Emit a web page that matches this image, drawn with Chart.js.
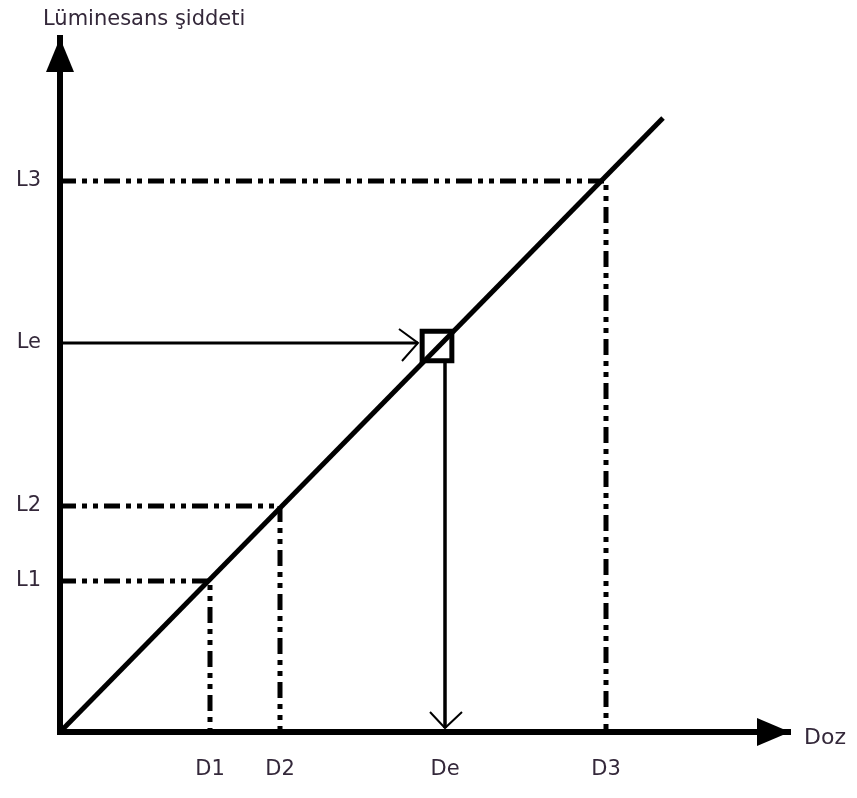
<!DOCTYPE html>
<html>
<head>
<meta charset="utf-8">
<script src="https://cdn.jsdelivr.net/npm/chart.js@4.4.1/dist/chart.umd.min.js"></script>
<style>
  html, body { margin: 0; padding: 0; background: #fff; }
  #wrap { width: 857px; height: 798px; }
</style>
</head>
<body>
<div id="wrap"><canvas id="chart"></canvas></div>
<script>
// schematic units (dose on x, luminescence on y)
const doseValues = [150, 220, 385, 546];
const doseLabels = ['D1', 'D2', 'De', 'D3'];
const lumValues = [151, 226, 389, 551];
const lumLabels = ['L1', 'L2', 'Le', 'L3'];
const xMax = 730;
const yMax = 694;
const calibLine = [{ x: 0, y: 0 }, { x: 603, y: 614 }];
const markerPoint = [{ x: 377, y: 386 }];
const leArrow = [{ x: 0, y: 389 }, { x: 358, y: 389 }];
const deArrow = [{ x: 385, y: 372 }, { x: 385, y: 4 }];

const textColor = '#34283a';
const font = 'DejaVu Sans';

// dash-dot-dot guide lines for the three known doses
const guides = [0, 1, 3].map(i => ({
    data: [{ x: 0, y: lumValues[i] }, { x: doseValues[i], y: lumValues[i] }, { x: doseValues[i], y: 0 }],
    showLine: true,
    borderColor: '#000',
    borderWidth: 5,
    borderDash: [16, 6, 5, 6, 5, 6],
    pointRadius: 0,
    fill: false
}));

const drawExtras = {
    id: 'drawExtras',
    afterDraw(chart) {
        const { ctx, chartArea, scales } = chart;
        const x = scales.x, y = scales.y;
        ctx.save();
        ctx.fillStyle = '#000';

        // y axis arrow head
        ctx.beginPath();
        ctx.moveTo(chartArea.left, chartArea.top);
        ctx.lineTo(chartArea.left - 14, chartArea.top + 34);
        ctx.lineTo(chartArea.left + 14, chartArea.top + 34);
        ctx.closePath();
        ctx.fill();

        // x axis arrow head
        ctx.beginPath();
        ctx.moveTo(chartArea.right, chartArea.bottom);
        ctx.lineTo(chartArea.right - 33, chartArea.bottom - 14);
        ctx.lineTo(chartArea.right - 33, chartArea.bottom + 14);
        ctx.closePath();
        ctx.fill();

        // open arrow heads on the Le -> De path
        ctx.strokeStyle = '#000';
        ctx.lineWidth = 2;
        const hx = x.getPixelForValue(leArrow[1].x), hy = y.getPixelForValue(leArrow[1].y);
        ctx.beginPath();
        ctx.moveTo(hx - 19, hy - 14);
        ctx.lineTo(hx, hy);
        ctx.lineTo(hx - 16, hy + 18);
        ctx.stroke();
        const vx = x.getPixelForValue(deArrow[1].x), vy = y.getPixelForValue(deArrow[1].y);
        ctx.beginPath();
        ctx.moveTo(vx - 15, vy - 16);
        ctx.lineTo(vx, vy);
        ctx.lineTo(vx + 17, vy - 16);
        ctx.stroke();

        // axis titles
        ctx.fillStyle = textColor;
        ctx.font = '21px "' + font + '"';
        ctx.textBaseline = 'alphabetic';
        ctx.textAlign = 'left';
        ctx.fillText('Lüminesans şiddeti', 43, 25);
        ctx.font = '22px "' + font + '"';
        ctx.fillText('Doz', 804, 744);
        ctx.restore();
    }
};

new Chart(document.getElementById('chart'), {
    type: 'scatter',
    data: {
        datasets: [
            {
                data: calibLine,
                showLine: true,
                borderColor: '#000',
                borderWidth: 5,
                pointRadius: 0
            },
            ...guides,
            {
                data: leArrow,
                showLine: true,
                borderColor: '#000',
                borderWidth: 3,
                pointRadius: 0
            },
            {
                data: deArrow,
                showLine: true,
                borderColor: '#000',
                borderWidth: 3.5,
                pointRadius: 0
            },
            {
                data: markerPoint,
                pointStyle: 'rect',
                pointRadius: 21,
                borderColor: '#000',
                borderWidth: 5,
                backgroundColor: 'rgba(0,0,0,0)'
            }
        ]
    },
    options: {
        responsive: true,
        maintainAspectRatio: false,
        animation: false,
        layout: { padding: { top: 38, right: 67, left: 0, bottom: 0 } },
        plugins: {
            legend: { display: false },
            tooltip: { enabled: false }
        },
        scales: {
            x: {
                type: 'linear',
                min: 0,
                max: xMax,
                grid: { display: false, drawTicks: false },
                border: { display: true, color: '#000', width: 6 },
                afterBuildTicks: (scale) => { scale.ticks = doseValues.map(v => ({ value: v })); },
                afterFit: (scale) => { scale.height = 66; },
                ticks: {
                    padding: 25,
                    color: textColor,
                    font: { family: font, size: 21 },
                    callback: (value) => doseLabels[doseValues.indexOf(value)]
                }
            },
            y: {
                type: 'linear',
                min: 0,
                max: yMax,
                grid: { display: false, drawTicks: false },
                border: { display: true, color: '#000', width: 6 },
                afterBuildTicks: (scale) => { scale.ticks = lumValues.map(v => ({ value: v })); },
                afterFit: (scale) => { scale.width = 60; },
                ticks: {
                    padding: 19,
                    color: textColor,
                    font: { family: font, size: 21 },
                    callback: (value) => lumLabels[lumValues.indexOf(value)]
                }
            }
        }
    },
    plugins: [drawExtras]
});
</script>
</body>
</html>
